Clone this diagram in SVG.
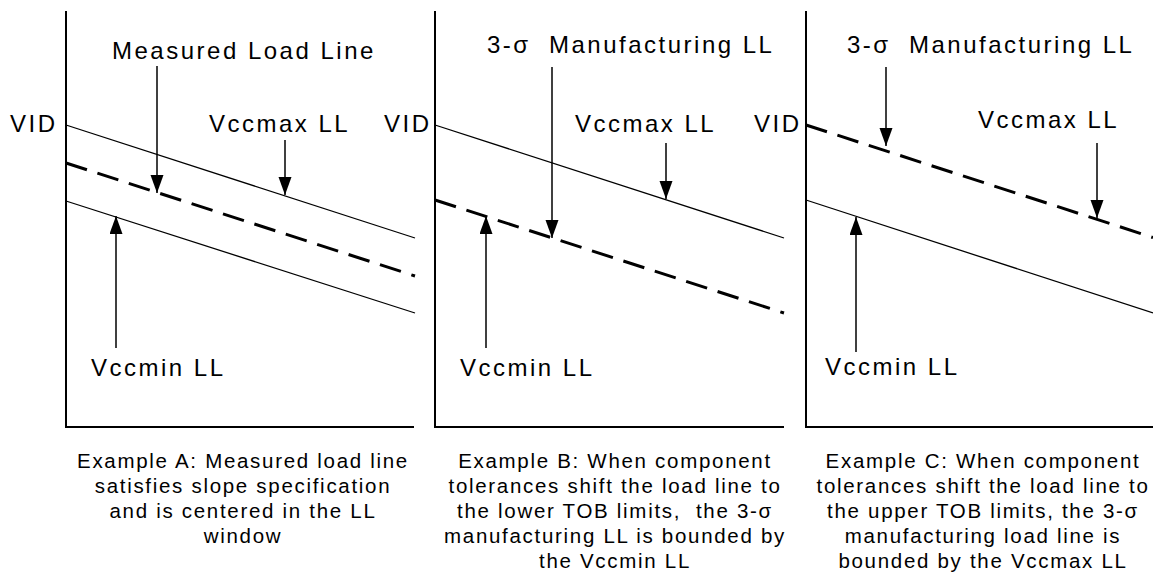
<svg xmlns="http://www.w3.org/2000/svg" width="1153" height="573" viewBox="0 0 1153 573">
  <style>
    .axis { stroke: #000; stroke-width: 2; fill: none; }
    .ll { stroke: #000; stroke-width: 1.3; fill: none; }
    .ll-dash { stroke: #000; stroke-width: 3; fill: none; stroke-dasharray: 22 11; }
    .lbl { font-family: "Liberation Sans", Arial, sans-serif; font-size: 24px; letter-spacing: 2.5px; fill: #000; }
    .cap { font-family: "Liberation Sans", Arial, sans-serif; font-size: 20.5px; letter-spacing: 1.7px; fill: #000; text-anchor: middle; }
    .arrow { stroke: #000; stroke-width: 1.5; fill: none; marker-end: url(#head); }
  </style>
  <defs>
    <marker id="head" markerUnits="userSpaceOnUse" markerWidth="18" markerHeight="14" refX="18" refY="6.5" orient="auto">
      <path d="M0,0 L18,6.5 L0,13 Z" fill="#000"/>
    </marker>
  </defs>
  <rect width="1153" height="573" fill="#fff"/>

  <!-- Example A: measured load line centred in the window -->
  <g id="panel-a">
    <path class="axis" d="M66,11 V427 H414"/>
    <line class="ll" x1="66" y1="125" x2="415" y2="238"/>
    <line class="ll-dash" x1="66" y1="163" x2="415" y2="276"/>
    <line class="ll" x1="66" y1="201" x2="415" y2="313"/>
    <text class="lbl" x="10" y="132">VID</text>
    <text class="lbl" x="112" y="59">Measured Load Line</text>
    <text class="lbl" x="209" y="132">Vccmax LL</text>
    <text class="lbl" x="91" y="376">Vccmin LL</text>
    <text class="cap" y="468"><tspan x="243">Example A: Measured load line</tspan><tspan x="243" dy="25">satisfies slope specification</tspan><tspan x="243" dy="25">and is centered in the LL</tspan><tspan x="243" dy="25">window</tspan></text>
  </g>

  <!-- Example B: manufacturing LL at the lower limit -->
  <g id="panel-b">
    <path class="axis" d="M435,11 V427 H784"/>
    <line class="ll" x1="435" y1="125" x2="784" y2="238"/>
    <line class="ll-dash" x1="435" y1="200" x2="784" y2="313"/>
    <text class="lbl" x="384" y="132">VID</text>
    <text class="lbl" x="487" y="53">3-σ&#160;&#160;Manufacturing LL</text>
    <text class="lbl" x="575" y="132">Vccmax LL</text>
    <text class="lbl" x="460" y="376">Vccmin LL</text>
    <text class="cap" y="468"><tspan x="615">Example B: When component</tspan><tspan x="615" dy="25">tolerances shift the load line to</tspan><tspan x="615" dy="25">the lower TOB limits,&#160; the 3-σ</tspan><tspan x="615" dy="25">manufacturing LL is bounded by</tspan><tspan x="615" dy="25">the Vccmin LL</tspan></text>
  </g>

  <!-- Example C: manufacturing LL at the upper limit -->
  <g id="panel-c">
    <path class="axis" d="M806,11 V427 H1153"/>
    <line class="ll-dash" x1="806" y1="125" x2="1153" y2="237.5"/>
    <line class="ll" x1="806" y1="200" x2="1153" y2="313"/>
    <text class="lbl" x="754" y="132">VID</text>
    <text class="lbl" x="847" y="53">3-σ&#160;&#160;Manufacturing LL</text>
    <text class="lbl" x="978" y="128">Vccmax LL</text>
    <text class="lbl" x="825" y="375">Vccmin LL</text>
    <text class="cap" y="468"><tspan x="983">Example C: When component</tspan><tspan x="983" dy="25">tolerances shift the load line to</tspan><tspan x="983" dy="25">the upper TOB limits, the 3-σ</tspan><tspan x="983" dy="25">manufacturing load line is</tspan><tspan x="983" dy="25">bounded by the Vccmax LL</tspan></text>
  </g>

  <!-- pointer arrows from labels to load lines -->
  <g id="connectors">
    <line class="arrow" x1="157" y1="66" x2="157" y2="193"/>
    <line class="arrow" x1="285" y1="140" x2="285" y2="195"/>
    <line class="arrow" x1="116" y1="348" x2="116" y2="216"/>
    <line class="arrow" x1="552" y1="67" x2="552" y2="238"/>
    <line class="arrow" x1="666" y1="143" x2="666" y2="199"/>
    <line class="arrow" x1="486" y1="348" x2="486" y2="216"/>
    <line class="arrow" x1="886" y1="67" x2="886" y2="146"/>
    <line class="arrow" x1="1097" y1="143" x2="1097" y2="218"/>
    <line class="arrow" x1="856" y1="352" x2="856" y2="217"/>
  </g>
</svg>
